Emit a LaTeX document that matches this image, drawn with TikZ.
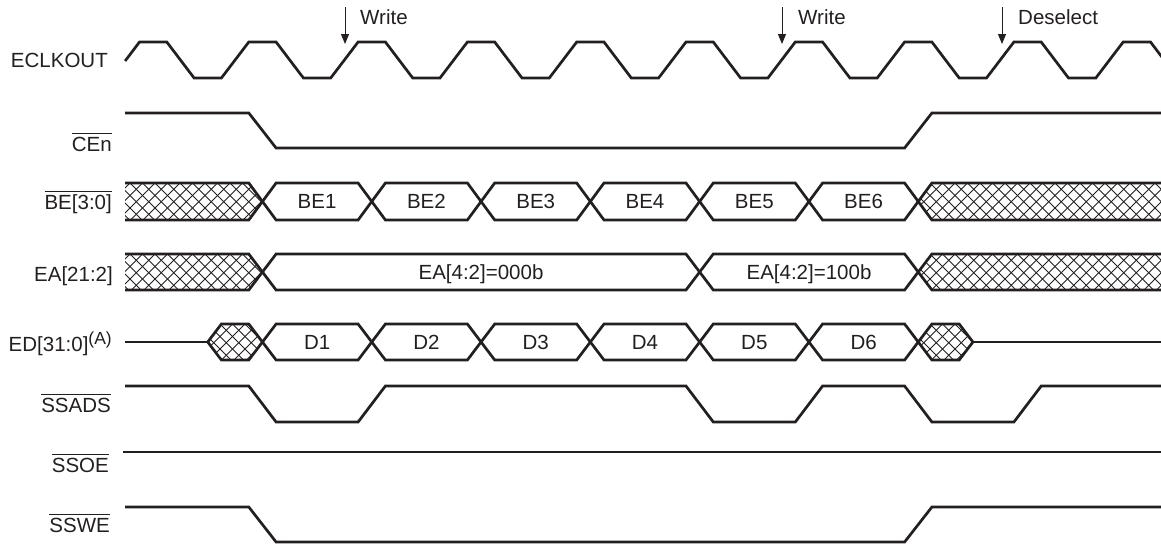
\documentclass[tikz,border=0pt]{standalone}
\usepackage{fontspec}
\setmainfont{Liberation Sans}
\usetikzlibrary{arrows.meta}
\definecolor{ink}{RGB}{35,31,32}
\newsavebox\ovlbox
\newcommand{\ovl}[1]{\sbox\ovlbox{#1}\rlap{\raisebox{17.5pt}{\rule{\wd\ovlbox}{1pt}}}\usebox\ovlbox}
% hatch lines: #1 first x, #2 count, #3 top y, #4 height
\newcommand{\hatchzone}[4]{\foreach \i in {0,...,#2}{\draw[hatchline] ({#1+12.5*\i},#3) -- ++(#4,#4) ({#1+12.5*\i},#3) -- ++(-#4,#4);}}
\begin{document}
\begin{tikzpicture}[x=1pt,y=-1pt,
  sig/.style={draw=ink,line width=2.7pt},
  hatchline/.style={draw=ink,line width=0.8pt},
  lbl/.style={anchor=base east,inner sep=0pt,font=\fontsize{20.5}{24}\selectfont,text=ink},
  val/.style={anchor=base,inner sep=0pt,font=\fontsize{20.5}{24}\selectfont,text=ink},
  note/.style={anchor=base west,inner sep=0pt,font=\fontsize{20.5}{24}\selectfont,text=ink},
  arr/.style={draw=ink,line width=1pt,-{Triangle[length=10pt,width=8pt]}}]
\useasboundingbox (0,0) rectangle (1161,544);
\clip (0,0) rectangle (1161,544);

% ---------- labels ----------
\node[lbl] (lclk) at (108,67.7) {ECLKOUT};
\node[lbl] (lce) at (112,151) {\ovl{CEn}};
\node[lbl] (lbe) at (112,209) {\ovl{BE[3:0]}};
\node[lbl] (lea) at (113,281) {EA[21:2]};
\node[lbl] (led) at (112,351) {ED[31:0]\raisebox{6.5pt}{\fontsize{17.5}{18}\selectfont (A)}};
\node[lbl] (lads) at (111,412) {\ovl{SSADS}};
\node[lbl] (loe) at (109,472) {\ovl{SSOE}};
\node[lbl] (lwe) at (110,532) {\ovl{SSWE}};

% ---------- clock ----------
\draw[sig] (125.1,61) -- (139.5,42)
  \foreach \k in {0,...,9} { -- ++(27.3,0) -- ++(27.3,36) -- ++(27.3,0) -- ++(27.4,-36) };

% ---------- event arrows ----------
\coordinate (w1a) at (345,7);   \coordinate (w1b) at (345,44);
\coordinate (w2a) at (782,7);   \coordinate (w2b) at (782,44);
\coordinate (dsa) at (1002,7);  \coordinate (dsb) at (1002,44);
\draw[arr] (w1a) -- (w1b);
\draw[arr] (w2a) -- (w2b);
\draw[arr] (dsa) -- (dsb);
\node[note] (tw1) at (360,24) {Write};
\node[note] (tw2) at (798,24) {Write};
\node[note] (tds) at (1018,24) {Deselect};

% ---------- CEn ----------
\draw[sig] (125,113) -- (248.8,113) -- (276.1,148) -- (904.6,148) -- (931.9,113) -- (1161,113);

% ---------- BE[3:0] ----------
\begin{scope}
  \clip (125,183) -- (248.8,183) -- (262.45,201.5) -- (248.8,220) -- (125,220) -- cycle;
  \hatchzone{80}{20}{183}{37}
\end{scope}
\begin{scope}
  \clip (918.25,201.5) -- (931.9,183) -- (1165,183) -- (1165,220) -- (931.9,220) -- cycle;
  \hatchzone{880}{26}{183}{37}
\end{scope}
\draw[sig] (125,183) -- (248.8,183) -- (262.45,201.5) -- (248.8,220) -- (125,220);
\draw[sig] (1165,183) -- (931.9,183) -- (918.25,201.5) -- (931.9,220) -- (1165,220);
\foreach \a/\b/\t in {262.45/371.75/BE1,371.75/481.05/BE2,481.05/590.35/BE3,590.35/699.65/BE4,699.65/808.95/BE5,808.95/918.25/BE6}{
  \draw[sig] (\a,201.5) -- ({\a+13.65},183) -- ({\b-13.65},183) -- (\b,201.5) -- ({\b-13.65},220) -- ({\a+13.65},220) -- cycle;
  \node[val] (v\t) at ({(\a+\b)/2},208.7) {\t};
}

% ---------- EA[21:2] ----------
\begin{scope}
  \clip (125,254) -- (248.8,254) -- (262.45,272) -- (248.8,290) -- (125,290) -- cycle;
  \hatchzone{80}{20}{254}{36}
\end{scope}
\begin{scope}
  \clip (918.25,272) -- (931.9,254) -- (1165,254) -- (1165,290) -- (931.9,290) -- cycle;
  \hatchzone{880}{26}{254}{36}
\end{scope}
\draw[sig] (125,254) -- (248.8,254) -- (262.45,272) -- (248.8,290) -- (125,290);
\draw[sig] (1165,254) -- (931.9,254) -- (918.25,272) -- (931.9,290) -- (1165,290);
\draw[sig] (262.45,272) -- (276.1,254) -- (686,254) -- (699.65,272) -- (686,290) -- (276.1,290) -- cycle;
\draw[sig] (699.65,272) -- (713.3,254) -- (904.6,254) -- (918.25,272) -- (904.6,290) -- (713.3,290) -- cycle;
\node[val] (vea1) at (481,279.2) {EA[4:2]=000b};
\node[val] (vea2) at (809,279.2) {EA[4:2]=100b};

% ---------- ED[31:0] ----------
\begin{scope}
  \clip (207.75,342) -- (221.4,324) -- (248.8,324) -- (262.45,342) -- (248.8,360) -- (221.4,360) -- cycle;
  \hatchzone{170}{10}{324}{36}
\end{scope}
\begin{scope}
  \clip (918.25,342) -- (931.9,324) -- (959.2,324) -- (972.9,342) -- (959.2,360) -- (931.9,360) -- cycle;
  \hatchzone{880}{10}{324}{36}
\end{scope}
\draw[sig] (125,342) -- (207.75,342);
\draw[sig] (207.75,342) -- (221.4,324) -- (248.8,324) -- (262.45,342) -- (248.8,360) -- (221.4,360) -- cycle;
\draw[sig] (918.25,342) -- (931.9,324) -- (959.2,324) -- (972.9,342) -- (959.2,360) -- (931.9,360) -- cycle;
\draw[sig] (972.9,342) -- (1165,342);
\foreach \a/\b/\t in {262.45/371.75/D1,371.75/481.05/D2,481.05/590.35/D3,590.35/699.65/D4,699.65/808.95/D5,808.95/918.25/D6}{
  \draw[sig] (\a,342) -- ({\a+13.65},324) -- ({\b-13.65},324) -- (\b,342) -- ({\b-13.65},360) -- ({\a+13.65},360) -- cycle;
  \node[val] (v\t) at ({(\a+\b)/2},349.2) {\t};
}

% ---------- SSADS ----------
\draw[sig] (125,386) -- (248.8,386) -- (276.1,422) -- (358.1,422) -- (385.4,386)
  -- (686,386) -- (713.3,422) -- (795.3,422) -- (822.6,386)
  -- (904.6,386) -- (931.9,422) -- (1013.9,422) -- (1041.2,386) -- (1165,386);

% ---------- SSOE ----------
\draw[sig] (123,452) -- (1165,452);

% ---------- SSWE ----------
\draw[sig] (125,507) -- (248.8,507) -- (276.1,542) -- (904.6,542) -- (931.9,507) -- (1165,507);
\end{tikzpicture}
\end{document}
